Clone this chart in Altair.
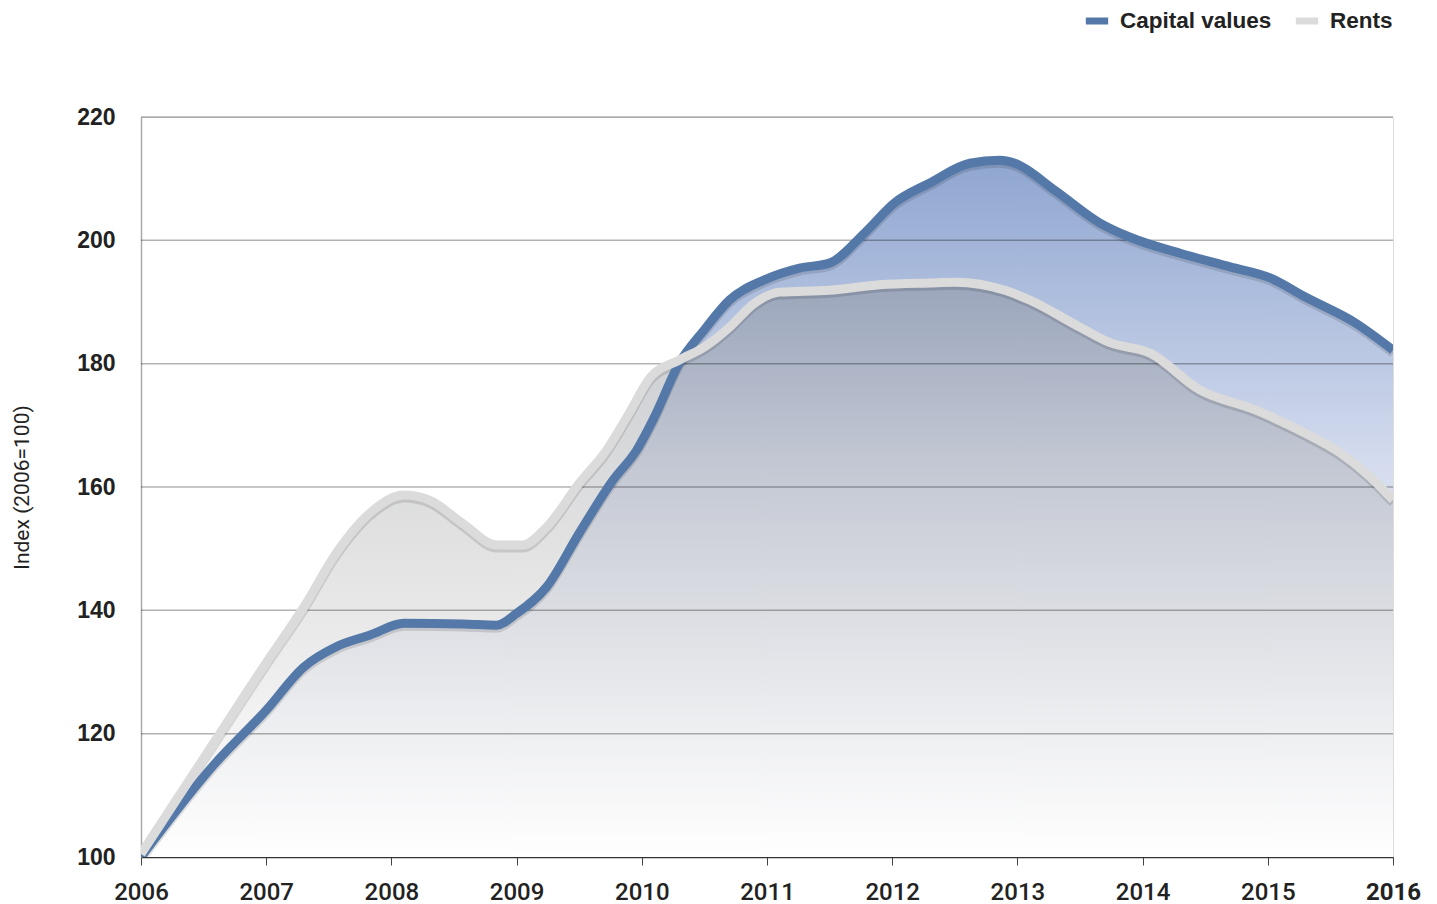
import altair as alt
import pandas as pd

# Capital values index
cap_x = [2006.0, 2006.58, 2007.0, 2007.3, 2007.56, 2007.83, 2008.1, 2008.57, 2008.84, 2009.0,
         2009.24, 2009.5, 2009.77, 2009.96, 2010.1, 2010.3, 2010.5, 2010.7, 2010.98, 2011.26,
         2011.5, 2011.78, 2012.02, 2012.3, 2012.62, 2012.86, 2012.98, 2013.3, 2013.66, 2013.9,
         2014.3, 2014.7, 2015.02, 2015.3, 2015.7, 2016.0]
cap_y = [100.0, 114.9, 123.8, 130.8, 134.1, 136.0, 137.9, 137.8, 137.6, 139.5,
         143.8, 152.5, 161.1, 166.0, 171.3, 180.1, 185.5, 190.3, 193.6, 195.5,
         196.3, 201.2, 206.1, 209.3, 212.5, 213.0, 212.5, 208.1, 202.8, 200.5,
         197.9, 195.7, 193.9, 190.8, 186.6, 182.2]

# Rents index
rent_x = [2006.0, 2006.58, 2007.0, 2007.3, 2007.56, 2007.83, 2008.1, 2008.3, 2008.57, 2008.84,
          2009.05, 2009.24, 2009.5, 2009.72, 2009.9, 2010.07, 2010.3, 2010.5, 2010.7, 2010.9,
          2011.1, 2011.5, 2011.9, 2012.3, 2012.5, 2012.9, 2013.1, 2013.5, 2013.74, 2014.06,
          2014.46, 2014.9, 2015.3, 2015.58, 2015.82, 2016.0]
rent_y = [100.5, 118.5, 131.5, 140.5, 149.3, 155.8, 158.7, 157.9, 154.1, 150.6,
          150.6, 153.5, 160.6, 166.0, 172.0, 177.8, 180.6, 182.7, 185.9, 189.8,
          191.6, 191.9, 192.8, 193.1, 193.2, 191.9, 190.3, 185.9, 183.4, 181.7,
          175.7, 172.5, 168.7, 165.5, 161.6, 157.9]

series_names = ["Capital values", "Rents"]
series_colors = ["#5479a8", "#dadbda"]
year_ticks = list(range(2006, 2017))
y_ticks = [100, 120, 140, 160, 180, 200, 220]
grid_vals = [120, 140, 160, 180, 200, 220]

cap = pd.DataFrame({"year": cap_x, "value": cap_y, "series": series_names[0]})
rent = pd.DataFrame({"year": rent_x, "value": rent_y, "series": series_names[1]})
both = pd.concat([cap, rent], ignore_index=True)
grid_df = pd.DataFrame({"v": grid_vals})

xscale = alt.Scale(domain=[2006, 2016], nice=False, zero=False)
yscale = alt.Scale(domain=[100, 220], nice=False, zero=False)

xenc = alt.X("year:Q", scale=xscale, title=None,
             axis=alt.Axis(values=year_ticks, format="d", grid=False, tickSize=8,
                           tickColor="#444", tickWidth=1, domainColor="#333", domainWidth=1.5,
                           labelPadding=15, labelFont="Roboto", labelFontSize=24,
                           labelColor="#222", labelFlush=False, labelOverlap=False,
                           labelFontWeight={"condition": {"test": "datum.value == 2016", "value": "bold"},
                                            "value": 500}))
yenc = alt.Y("value:Q", scale=yscale, title="Index (2006=100)",
             axis=alt.Axis(values=y_ticks, grid=False, ticks=False, domainColor="#aaa",
                           domainWidth=1.5, labelPadding=26, labelFont="Liberation Sans",
                           labelFontWeight="bold", labelFontSize=23, labelColor="#222",
                           titleFont="Roboto", titleFontSize=21, titleFontWeight="normal",
                           titleColor="#222", titlePadding=44))

blue_grad = alt.Gradient(gradient="linear", x1=0, x2=0, y1=0, y2=1,
                         stops=[alt.GradientStop(color="#8fa6d0", offset=0),
                                alt.GradientStop(color="#d6ddef", offset=0.45),
                                alt.GradientStop(color="#f4f6fb", offset=0.8),
                                alt.GradientStop(color="#ffffff", offset=1)])
gray_grad = alt.Gradient(gradient="linear", x1=0, x2=0, y1=0, y2=1,
                         stops=[alt.GradientStop(color="#888d97", offset=0),
                                alt.GradientStop(color="#c6c6c6", offset=0.5),
                                alt.GradientStop(color="#ffffff", offset=1)])

area_cap = alt.Chart(cap).mark_area(interpolate="monotone", fill=blue_grad, clip=True).encode(
    x=xenc, y=yenc, y2=alt.datum(100))
area_rent = alt.Chart(rent).mark_area(interpolate="monotone", fill=gray_grad, fillOpacity=0.47,
                                      clip=True).encode(x=xenc, y=yenc, y2=alt.datum(100))

grid = alt.Chart(grid_df).mark_rule(color="black", opacity=0.3, strokeWidth=1.5).encode(
    y=alt.Y("v:Q", scale=yscale))

shadow = alt.Chart(both).mark_line(interpolate="monotone", strokeWidth=9, color="black",
                                   opacity=0.12, yOffset=3, clip=True).encode(
    x=xenc, y=yenc, detail="series:N")

lines = alt.Chart(both).mark_line(interpolate="monotone", strokeWidth=9, clip=True).encode(
    x=xenc, y=yenc,
    color=alt.Color("series:N", scale=alt.Scale(domain=series_names, range=series_colors),
                    legend=alt.Legend(title=None, orient="none", direction="horizontal",
                                      legendX=941, legendY=-111, symbolType="stroke",
                                      symbolStrokeWidth=7, symbolSize=500, labelOffset=8,
                                      columnPadding=9, labelFont="Liberation Sans",
                                      labelFontWeight="bold", labelFontSize=22.5,
                                      labelColor="#222", padding=0)))

chart = alt.layer(area_cap, area_rent, grid, shadow, lines).properties(
    width=1252, height=740,
    autosize=alt.AutoSizeParams(type="none"),
    padding={"left": 133, "top": 109, "right": 36, "bottom": 47},
).configure_view(stroke=None).configure(background="white")

chart.save("out.html", embed_options={"renderer": "svg", "actions": False})
